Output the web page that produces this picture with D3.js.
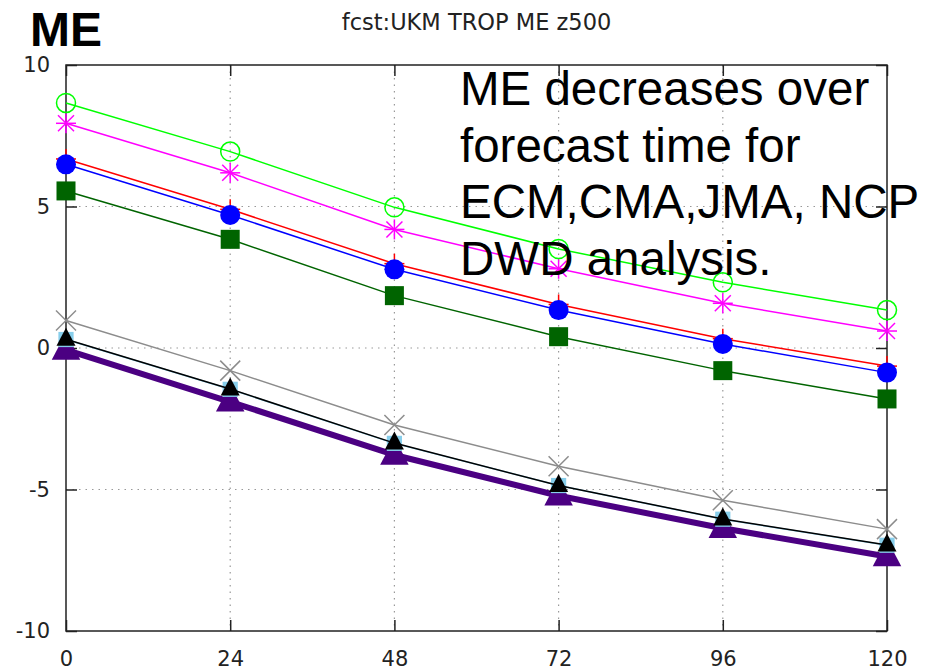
<!DOCTYPE html>
<html>
<head>
<meta charset="utf-8">
<script src="https://cdn.jsdelivr.net/npm/d3@7"></script>
<style>
  html, body { margin: 0; padding: 0; background: #fff; }
  svg { display: block; }
</style>
</head>
<body>
<svg id="chart" width="940" height="670"></svg>
<script>
// ---- data ----
const leadTimes = [0, 24, 48, 72, 96, 120];
const xTickLabels = ["0", "24", "48", "72", "96", "120"];
const yTicks = [-10, -5, 0, 5, 10];
const yTickLabels = ["-10", "-5", "0", "5", "10"];

const purpleVals = [-0.07, -1.90, -3.78, -5.22, -6.37, -7.37];
const skyVals    = [0.30, -1.46, -3.37, -4.86, -6.05, -6.97];
const blackVals  = [0.31, -1.45, -3.36, -4.86, -6.04, -6.96];
const grayVals   = [0.97, -0.80, -2.72, -4.18, -5.38, -6.40];
const dkgreenVals= [5.55, 3.84, 1.85, 0.40, -0.80, -1.80];
const redVals    = [6.68, 4.90, 2.98, 1.54, 0.33, -0.64];
const blueVals   = [6.49, 4.70, 2.78, 1.34, 0.14, -0.87];
const magentaVals= [7.94, 6.19, 4.19, 2.80, 1.58, 0.60];
const greenVals  = [8.66, 6.94, 4.97, 3.50, 2.32, 1.34];

const titleText = "fcst:UKM TROP ME z500";
const panelLabel = "ME";
const noteLines = ["ME decreases over", "forecast time for", "ECM,CMA,JMA, NCP", "DWD analysis."];

// ---- series definitions (drawing order) ----
const series = [
  { vals: purpleVals,  color: "#4b0082", width: 6,   marker: "triangle", size: 1.5 },
  { vals: skyVals,     color: "#87ceeb", width: 1.5, marker: "square",   size: 0.8 },
  { vals: blackVals,   color: "#000000", width: 1.5, marker: "triangle", size: 1.0 },
  { vals: grayVals,    color: "#8c8c8c", width: 1.5, marker: "cross",    size: 1.0 },
  { vals: dkgreenVals, color: "#006400", width: 1.5, marker: "square",   size: 1.0 },
  { vals: redVals,     color: "#ff0000", width: 1.5, marker: "plus",     size: 1.0 },
  { vals: blueVals,    color: "#0000ff", width: 1.5, marker: "dot",      size: 1.0 },
  { vals: magentaVals, color: "#ff00ff", width: 1.5, marker: "star",     size: 1.0 },
  { vals: greenVals,   color: "#00ff00", width: 1.5, marker: "ring",     size: 1.0 }
];

// ---- layout ----
const svg = d3.select("#chart");
const pLeft = 66, pRight = 887, pTop = 65, pBottom = 631;
const x = d3.scaleLinear().domain([0, 120]).range([pLeft, pRight]);
const y = d3.scaleLinear().domain([-10, 10]).range([pBottom, pTop]);

// grid
const grid = svg.append("g");
leadTimes.slice(1, -1).forEach(t => {
  grid.append("line").attr("x1", x(t)).attr("x2", x(t)).attr("y1", pTop).attr("y2", pBottom)
    .attr("stroke", "#999").attr("stroke-width", 1.2).attr("stroke-dasharray", "1.5,5");
});
yTicks.slice(1, -1).forEach(v => {
  grid.append("line").attr("x1", pLeft).attr("x2", pRight).attr("y1", y(v)).attr("y2", y(v))
    .attr("stroke", "#999").attr("stroke-width", 1.2).attr("stroke-dasharray", "1.5,5");
});

// axes (inward ticks)
const tickFont = "'DejaVu Sans', sans-serif";
const xAxisB = d3.axisBottom(x).tickValues(leadTimes).tickFormat((d, i) => xTickLabels[i]).tickSizeInner(-11).tickSizeOuter(0).tickPadding(20);
const xAxisT = d3.axisTop(x).tickValues(leadTimes).tickFormat("").tickSizeInner(-11).tickSizeOuter(0);
const yAxisL = d3.axisLeft(y).tickValues(yTicks).tickFormat((d, i) => yTickLabels[i]).tickSizeInner(-11).tickSizeOuter(0).tickPadding(16);
const yAxisR = d3.axisRight(y).tickValues(yTicks).tickFormat("").tickSizeInner(-11).tickSizeOuter(0);

function styleAxis(g) {
  g.select(".domain").remove();
  g.selectAll(".tick line").attr("stroke", "#222").attr("stroke-width", 1.5);
  g.selectAll(".tick text").attr("fill", "#222").style("font-family", tickFont).style("font-size", "21px");
}
svg.append("g").attr("transform", `translate(0,${pBottom})`).call(xAxisB).call(styleAxis);
svg.append("g").attr("transform", `translate(0,${pTop})`).call(xAxisT).call(styleAxis);
svg.append("g").attr("transform", `translate(${pLeft},0)`).call(yAxisL).call(styleAxis);
svg.append("g").attr("transform", `translate(${pRight},0)`).call(yAxisR).call(styleAxis);

// border
svg.append("rect").attr("x", pLeft).attr("y", pTop).attr("width", pRight - pLeft).attr("height", pBottom - pTop)
  .attr("fill", "none").attr("stroke", "#222").attr("stroke-width", 1.5);

// series
const line = d3.line().x((d, i) => x(leadTimes[i])).y(d => y(d));
const plot = svg.append("g");

function drawMarker(g, m, cx, cy, color, s) {
  if (m === "triangle") {
    const h = 9.5 * s;
    const pts = [[cx, cy - 11.5 * s], [cx - h, cy + 6.5 * s], [cx + h, cy + 6.5 * s]];
    g.append("path").attr("d", "M" + pts.map(p => p.join(",")).join("L") + "Z").attr("fill", color);
  } else if (m === "square") {
    const h = 9.5 * s;
    g.append("rect").attr("x", cx - h).attr("y", cy - h).attr("width", 2 * h).attr("height", 2 * h).attr("fill", color);
  } else if (m === "dot") {
    g.append("circle").attr("cx", cx).attr("cy", cy).attr("r", 10 * s).attr("fill", color);
  } else if (m === "ring") {
    g.append("circle").attr("cx", cx).attr("cy", cy).attr("r", 9.5 * s).attr("fill", "none").attr("stroke", color).attr("stroke-width", 1.5);
  } else if (m === "plus" || m === "cross" || m === "star") {
    const a = 10 * s;
    const segs = [];
    if (m !== "cross") { segs.push([cx - a, cy, cx + a, cy]); segs.push([cx, cy - a, cx, cy + a]); }
    if (m !== "plus") { const b = m === "star" ? a * 0.8 : a; segs.push([cx - b, cy - b, cx + b, cy + b]); segs.push([cx - b, cy + b, cx + b, cy - b]); }
    segs.forEach(sg => g.append("line").attr("x1", sg[0]).attr("y1", sg[1]).attr("x2", sg[2]).attr("y2", sg[3])
      .attr("stroke", color).attr("stroke-width", 1.5));
  }
}

series.forEach(sr => {
  const g = plot.append("g");
  g.append("path").datum(sr.vals).attr("d", line).attr("fill", "none")
    .attr("stroke", sr.color).attr("stroke-width", sr.width).attr("stroke-linejoin", "round");
  sr.vals.forEach((v, i) => drawMarker(g, sr.marker, x(leadTimes[i]), y(v), sr.color, sr.size));
});

// titles
svg.append("text").attr("x", (pLeft + pRight) / 2).attr("y", 30).attr("text-anchor", "middle")
  .style("font-family", tickFont).style("font-size", "22.5px").attr("fill", "#222").text(titleText);
svg.append("text").attr("x", 30).attr("y", 46)
  .style("font-family", "'Liberation Sans', Arial, sans-serif").style("font-weight", "bold").style("font-size", "48px")
  .attr("fill", "#000").text(panelLabel);

// annotation
const note = svg.append("text").style("font-family", "'Liberation Sans', Arial, sans-serif").style("font-size", "47.5px").attr("fill", "#000");
noteLines.forEach((t, i) => note.append("tspan").attr("x", 460).attr("y", 105 + i * 56.7).text(t));
</script>
</body>
</html>
